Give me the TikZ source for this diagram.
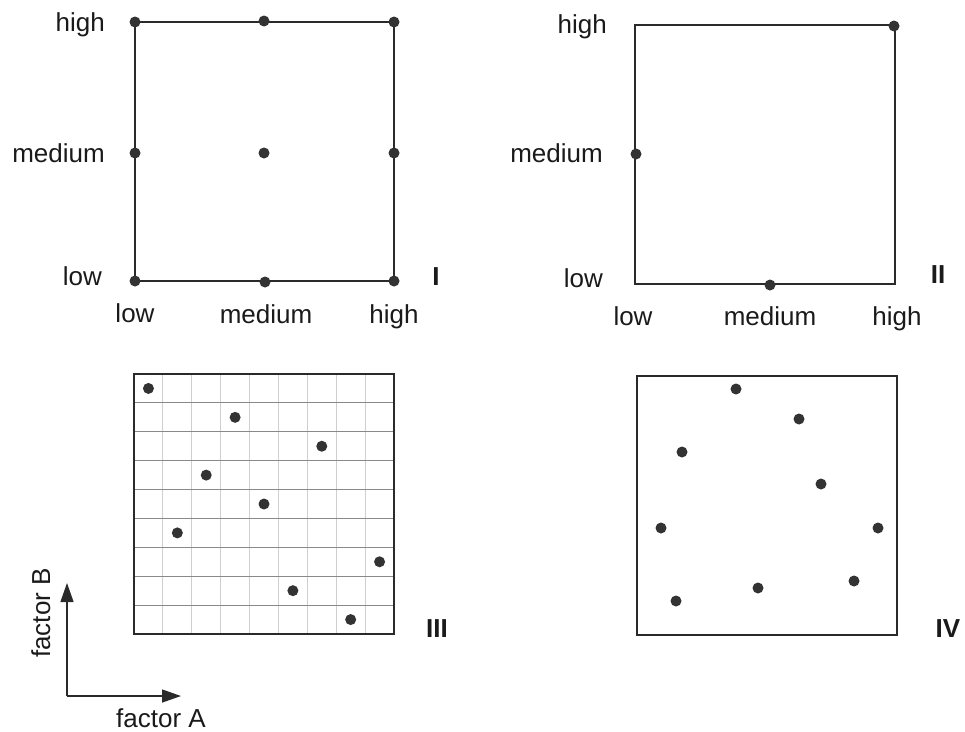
\documentclass[tikz,border=0pt]{standalone}
\usepackage{fontspec}
\setmainfont{Liberation Sans}
\usetikzlibrary{arrows.meta}
\definecolor{dotc}{HTML}{333333}
\definecolor{framec}{HTML}{2A2A2A}
\definecolor{gridv}{HTML}{CFCFCF}
\definecolor{gridh}{HTML}{8A8A8A}
\definecolor{txtc}{HTML}{1A1A1A}
\tikzset{
  dot/.style={circle,fill=dotc,inner sep=0pt,minimum size=11pt},
  frame/.style={draw=framec,line width=1.4pt},
  lbl/.style={inner sep=0pt,text=txtc,font=\fontsize{26}{30}\selectfont},
  roman/.style={inner sep=0pt,text=txtc,font=\fontsize{26}{30}\selectfont\bfseries,anchor=base},
  axis/.style={draw=framec,line width=1.3pt,-{Triangle[length=19pt,width=13pt]}}
}
\begin{document}
\begin{tikzpicture}[x=1pt,y=-1pt]
\useasboundingbox (0,0) rectangle (965,731);
% ---------- Panel I ----------
\draw[frame] (135,22) rectangle (394,281);
\node[dot] (i11) at (135,22) {};
\node[dot] (i12) at (264,21) {};
\node[dot] (i13) at (394,22) {};
\node[dot] (i21) at (135,153) {};
\node[dot] (i22) at (264,153) {};
\node[dot] (i23) at (394,153) {};
\node[dot] (i31) at (135,281) {};
\node[dot] (i32) at (265,282) {};
\node[dot] (i33) at (394,281) {};
\node[lbl,anchor=base east] (ihigh) at (105,31) {high};
\node[lbl,anchor=base east] (imed) at (105,162) {medium};
\node[lbl,anchor=base east] (ilow) at (102,285) {low};
\node[lbl,anchor=base] (iblow) at (135,322) {low};
\node[lbl,anchor=base] (ibmed) at (266,323) {medium};
\node[lbl,anchor=base] (ibhigh) at (394,323) {high};
\node[roman] (rI) at (436,285) {I};
% ---------- Panel II ----------
\draw[frame] (635,25) rectangle (895,284);
\node[dot] (ii1) at (894,26) {};
\node[dot] (ii2) at (636,154) {};
\node[dot] (ii3) at (770,285) {};
\node[lbl,anchor=base east] (iihigh) at (607,33) {high};
\node[lbl,anchor=base east] (iimed) at (603,162) {medium};
\node[lbl,anchor=base east] (iilow) at (603,287) {low};
\node[lbl,anchor=base] (iiblow) at (633,325) {low};
\node[lbl,anchor=base] (iibmed) at (770,325) {medium};
\node[lbl,anchor=base] (iibhigh) at (897,325) {high};
\node[roman] (rII) at (938,283) {II};
% ---------- Panel III ----------
\foreach \i in {1,...,8} {
  \draw[gridv,line width=0.9pt] ({134+260/9*\i},374) -- ({134+260/9*\i},634);
}
\foreach \i in {1,...,8} {
  \draw[gridh,line width=1.1pt] (134,{374+260/9*\i}) -- (394,{374+260/9*\i});
}
\draw[frame] (134,374) rectangle (394,634);
\foreach \c/\r [count=\k] in {0/0,3/1,6/2,2/3,4/4,1/5,8/6,5/7,7/8} {
  \node[dot] (iii\k) at ({134+260/9*(\c+0.5)},{374+260/9*(\r+0.5)}) {};
}
\node[roman] (rIII) at (437,637) {III};
% ---------- Panel IV ----------
\draw[frame] (637,376) rectangle (897,635);
\node[dot] (iv1) at (736,389) {};
\node[dot] (iv2) at (799,419) {};
\node[dot] (iv3) at (682,452) {};
\node[dot] (iv4) at (821,484) {};
\node[dot] (iv5) at (661,528) {};
\node[dot] (iv6) at (878,528) {};
\node[dot] (iv7) at (854,581) {};
\node[dot] (iv8) at (758,588) {};
\node[dot] (iv9) at (676,601) {};
\node[roman] (rIV) at (948,637) {IV};
% ---------- Axes ----------
\coordinate (o) at (67,696);
\coordinate (ytip) at (67,583);
\coordinate (xtip) at (181,696);
\draw[axis] (o) -- (ytip);
\draw[axis] (o) -- (xtip);
\node[lbl,anchor=base,rotate=90] (fB) at (50,613) {factor B};
\node[lbl,anchor=base] (fA) at (161,727) {factor A};
\end{tikzpicture}
\end{document}
